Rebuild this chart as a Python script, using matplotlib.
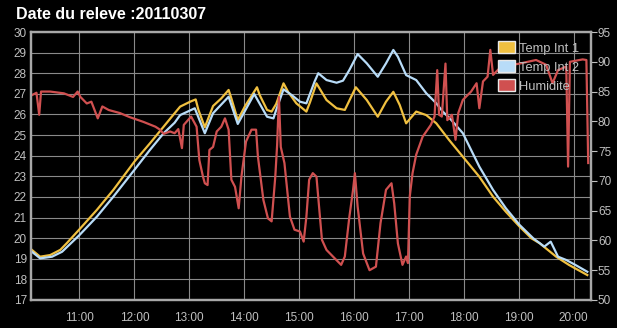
import matplotlib
matplotlib.use('Agg')
from matplotlib import pyplot as plt
import matplotlib.dates as mdates
from matplotlib.patches import Patch
import pandas as pd

# releve du 20110307
day = "2011-03-07 "

t1_time = ["10:08", "10:17", "10:28", "10:39", "10:46", "11:00", "11:19", "11:37", "12:00", "12:17",
           "12:32", "12:44", "12:50", "13:01", "13:07", "13:10", "13:17", "13:26", "13:35", "13:43",
           "13:46", "13:53", "14:01", "14:14", "14:17", "14:25", "14:30", "14:35", "14:43", "14:48",
           "14:57", "15:08", "15:12", "15:19", "15:30", "15:41", "15:50", "16:02", "16:14", "16:26",
           "16:35", "16:43", "16:50", "16:57", "17:08", "17:19", "17:30", "17:44", "17:59", "18:17",
           "18:32", "18:46", "19:01", "19:14", "19:23", "19:41", "19:55", "20:15"]
t1_val = [19.43, 19.10, 19.18, 19.43, 19.75, 20.43, 21.37, 22.34, 23.71, 24.60,
          25.41, 26.06, 26.38, 26.62, 26.73, 26.22, 25.38, 26.41, 26.78, 27.19,
          26.78, 25.73, 26.41, 27.32, 26.94, 26.22, 26.14, 26.51, 27.51, 27.10,
          26.54, 26.14, 26.60, 27.51, 26.70, 26.30, 26.22, 27.32, 26.70, 25.89,
          26.62, 27.10, 26.46, 25.57, 26.14, 25.97, 25.57, 24.76, 23.95, 22.98,
          22.01, 21.28, 20.56, 19.99, 19.75, 19.10, 18.70, 18.21]

t2_time = ["10:08", "10:17", "10:30", "10:41", "11:00", "11:19", "11:37", "12:00", "12:17", "12:32",
           "12:44", "12:50", "13:06", "13:17", "13:26", "13:43", "13:53", "14:11", "14:25", "14:32",
           "14:35", "14:43", "14:52", "15:01", "15:08", "15:17", "15:21", "15:30", "15:41", "15:48",
           "15:55", "16:04", "16:14", "16:26", "16:35", "16:43", "16:48", "16:57", "17:08", "17:19",
           "17:30", "17:37", "17:45", "17:59", "18:17", "18:32", "18:46", "19:01", "19:16", "19:28",
           "19:35", "19:43", "19:52", "20:02", "20:15"]
t2_val = [19.34, 19.02, 19.10, 19.34, 20.15, 21.04, 22.01, 23.31, 24.28, 25.09,
          25.60, 25.97, 26.30, 25.09, 26.06, 26.86, 25.54, 26.99, 25.89, 25.81,
          26.22, 27.22, 26.94, 26.62, 26.54, 27.60, 28.00, 27.67, 27.54, 27.64,
          28.16, 28.93, 28.48, 27.83, 28.48, 29.13, 28.80, 27.91, 27.67, 27.03,
          26.54, 26.14, 25.80, 25.09, 23.47, 22.34, 21.45, 20.64, 19.99, 19.59,
          19.83, 19.10, 18.94, 18.70, 18.37]

hum_time = ["10:08", "10:13", "10:16", "10:18", "10:28", "10:43", "10:53", "10:58", "11:01", "11:08",
            "11:13", "11:20", "11:25", "11:32", "11:44", "11:55", "12:10", "12:23", "12:28", "12:32",
            "12:39", "12:44", "12:48", "12:52", "12:54", "13:02", "13:08", "13:11", "13:15", "13:17",
            "13:20", "13:22", "13:26", "13:30", "13:35", "13:39", "13:43", "13:46", "13:50", "13:54",
            "13:57", "14:02", "14:08", "14:13", "14:15", "14:21", "14:26", "14:30", "14:34", "14:36",
            "14:38", "14:40", "14:44", "14:50", "14:55", "15:01", "15:05", "15:08", "15:11", "15:15",
            "15:19", "15:25", "15:30", "15:37", "15:46", "15:50", "15:55", "15:59", "16:01", "16:04",
            "16:10", "16:17", "16:24", "16:29", "16:35", "16:41", "16:44", "16:48", "16:53", "16:57",
            "16:59", "17:01", "17:04", "17:08", "17:15", "17:24", "17:28", "17:31", "17:33", "17:36",
            "17:40", "17:42", "17:47", "17:51", "17:54", "17:59", "18:08", "18:14", "18:17", "18:21",
            "18:26", "18:29", "18:32", "18:39", "18:50", "19:01", "19:19", "19:30", "19:37", "19:43",
            "19:52", "19:54", "19:56", "20:10", "20:14", "20:16"]
hum_val = [84.4, 84.8, 81.1, 85.0, 85.0, 84.7, 84.1, 85.0, 84.1, 83.0,
           83.3, 80.5, 82.5, 81.9, 81.4, 80.7, 79.9, 79.1, 78.6, 77.9,
           78.3, 78.0, 78.7, 75.5, 79.4, 80.8, 79.1, 73.5, 70.7, 69.6,
           69.3, 75.2, 75.7, 78.3, 79.1, 80.5, 78.6, 70.2, 69.0, 65.4,
           70.7, 76.6, 78.6, 78.6, 74.1, 66.8, 63.7, 63.2, 70.7, 76.0,
           84.1, 75.7, 73.0, 64.0, 61.8, 61.5, 59.8, 64.0, 70.2, 71.3,
           70.7, 60.1, 58.4, 57.3, 55.9, 57.3, 64.0, 68.5, 71.3, 65.7,
           57.8, 55.0, 55.6, 62.9, 68.5, 69.6, 66.2, 59.5, 55.9, 57.3,
           56.2, 67.4, 71.3, 74.4, 77.4, 79.4, 80.8, 88.6, 81.1, 80.8,
           89.7, 80.2, 81.1, 76.9, 81.4, 83.6, 85.0, 86.4, 82.2, 86.7,
           87.5, 92.0, 87.8, 88.9, 89.4, 89.7, 90.3, 89.5, 86.4, 88.6,
           89.2, 72.4, 90.0, 90.4, 90.3, 73.0]

left_ticks = list(range(17, 31))
right_ticks = list(range(50, 96, 5))

plt.rcParams['font.family'] = ['Liberation Sans', 'DejaVu Sans']

fig = plt.figure(figsize=(6.17, 3.28), dpi=100, facecolor='black')
ax = fig.add_axes([0.0502, 0.0854, 0.9076, 0.8170], facecolor='black')
ax2 = ax.twinx()

yellow = '#f0c040'
blue = '#b8dcf8'
red = '#d05050'
grey = '#c0c0c0'

x1 = pd.to_datetime([day + s for s in t1_time])
x2 = pd.to_datetime([day + s for s in t2_time])
xh = pd.to_datetime([day + s for s in hum_time])

ax.plot(x1, t1_val, color=yellow, lw=1.6)
ax.plot(x2, t2_val, color=blue, lw=1.6)
ax2.plot(xh, hum_val, color=red, lw=1.6)

ax.set_xlim(pd.Timestamp(day + "10:07"), pd.Timestamp(day + "20:19"))
ax.set_ylim(17, 30)
ax2.set_ylim(50, 95)
ax.set_yticks(left_ticks)
ax2.set_yticks(right_ticks)
ax.xaxis.set_major_locator(mdates.HourLocator())
ax.xaxis.set_major_formatter(mdates.DateFormatter('%H:%M'))

ax.grid(True, color='#8a8a8a', lw=0.8)
ax.tick_params(axis='x', length=0, pad=9, labelsize=8.5, labelcolor=grey)
ax.tick_params(axis='y', length=0, pad=3, labelsize=8.5, labelcolor=grey)
ax2.tick_params(axis='y', length=4, width=0.8, color=grey, pad=1, labelsize=8.5, labelcolor=grey)

for a in (ax, ax2):
    for s in a.spines.values():
        s.set_color('#a8a8a8')
        s.set_linewidth(1.6)

handles = [Patch(facecolor=yellow, edgecolor='#e8e8e8', label='Temp Int 1'),
           Patch(facecolor=blue, edgecolor='#e8e8e8', label='Temp Int 2'),
           Patch(facecolor=red, edgecolor='#e8e8e8', label='Humidite')]
leg = ax2.legend(handles=handles, loc='upper right', bbox_to_anchor=(0.995, 1.0),
                 frameon=False, fontsize=9.3, labelcolor=grey, handlelength=1.3,
                 handleheight=1.1, handletextpad=0.3, labelspacing=0.42, borderpad=0.2)

fig.text(0.026, 0.957, 'Date du releve :20110307', color='white', fontsize=11.5,
         fontweight='bold', va='center', ha='left')

fig.savefig('out.png', dpi=100, facecolor='black')
